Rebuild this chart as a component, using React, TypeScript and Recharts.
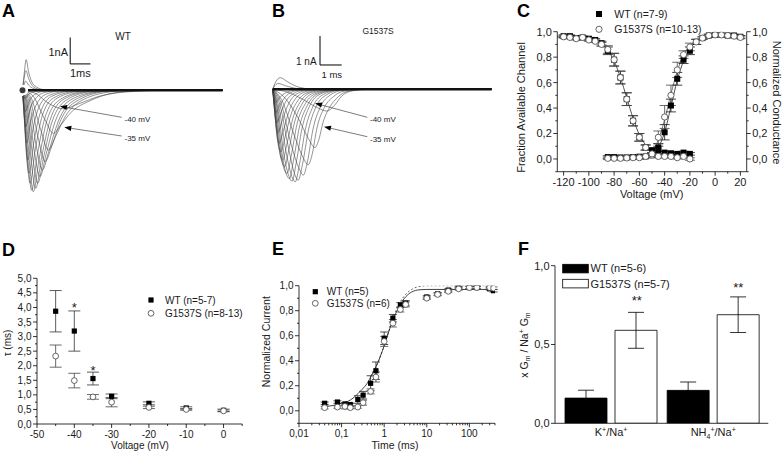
import React from 'react';
import {
  ComposedChart, LineChart, BarChart, Line, Scatter, Bar, XAxis, YAxis, ErrorBar, ReferenceLine,
} from 'recharts';

const FONT = '"Liberation Sans", Arial, Helvetica, sans-serif';
const comma1 = (v: number) => v.toFixed(1).replace('.', ',');
const comma2 = (v: number) => (Math.abs(v - 0.01) < 1e-9 ? '0,01' : Math.abs(v - 0.1) < 1e-9 ? '0,1' : String(v));
const intFmt = (v: number) => String(v);

// ---------------- Panel A (WT current traces) : [time ms, current nA]
const tracesA: number[][][] = [
  [[0,0],[0.6,-0.1],[1.3,-0.5],[2.0,-0.7],[2.8,-0.5],[3.8,-0.22],[5.5,-0.04],[7,0],[9.86,0]],
  [[0,0],[0.5,-0.2],[1.1,-1.1],[1.52,-1.63],[1.9,-1.3],[2.35,-0.87],[3.4,-0.37],[5.0,-0.05],[6.5,0],[9.86,0]],
  [[0,0],[0.4,-0.25],[0.9,-1.5],[1.27,-2.26],[1.6,-1.8],[2.1,-1.0],[3.0,-0.35],[4.6,-0.04],[6,0],[9.86,0]],
  [[0,0],[0.35,-0.3],[0.8,-1.9],[1.11,-2.7],[1.45,-2.1],[1.9,-1.1],[2.8,-0.35],[4.2,-0.04],[5.5,0],[9.86,0]],
  [[0,0],[0.3,-0.35],[0.7,-2.2],[0.98,-3.02],[1.3,-2.3],[1.75,-1.2],[2.6,-0.35],[4.0,-0.04],[5.5,0],[9.86,0]],
  [[0,0],[0.25,-0.4],[0.6,-2.4],[0.86,-3.27],[1.17,-2.4],[1.6,-1.2],[2.4,-0.35],[3.8,-0.04],[5,0],[9.86,0]],
  [[0,0],[0.2,-0.4],[0.5,-2.5],[0.75,-3.52],[1.05,-2.5],[1.45,-1.2],[2.2,-0.35],[3.5,-0.04],[5,0],[9.86,0]],
  [[0,0],[0.18,-0.5],[0.43,-2.7],[0.65,-3.71],[0.95,-2.5],[1.35,-1.15],[2.0,-0.35],[3.3,-0.04],[4.5,0],[9.86,0]],
  [[0,0],[0.15,-0.6],[0.35,-2.8],[0.53,-3.84],[0.82,-2.6],[1.2,-1.15],[1.85,-0.35],[3.1,-0.04],[4.5,0],[9.86,0]],
  [[0,0],[0.12,-0.7],[0.3,-2.9],[0.45,-3.78],[0.72,-2.5],[1.1,-1.05],[1.7,-0.3],[2.9,-0.03],[4,0],[9.86,0]],
  [[0,0],[0.1,-0.8],[0.25,-2.8],[0.37,-3.52],[0.62,-2.3],[0.98,-0.95],[1.55,-0.28],[2.7,-0.03],[4,0],[9.86,0]],
  [[0,0],[0.08,-0.8],[0.2,-2.5],[0.32,-3.14],[0.55,-2.0],[0.9,-0.8],[1.45,-0.22],[2.5,-0.02],[3.5,0],[9.86,0]],
  [[0,0],[0.07,-0.8],[0.17,-2.1],[0.26,-2.64],[0.48,-1.6],[0.82,-0.62],[1.35,-0.18],[2.3,-0.02],[3.5,0],[9.86,0]],
  [[0,0],[0.06,-0.7],[0.14,-1.6],[0.21,-2.0],[0.42,-1.15],[0.75,-0.45],[1.25,-0.12],[2.1,0],[9.86,0]],
  [[0,0],[0.05,-0.6],[0.11,-1.15],[0.16,-1.38],[0.36,-0.75],[0.68,-0.28],[1.15,-0.07],[2.0,0],[9.86,0]],
  [[0,0],[0.05,-0.4],[0.14,-0.8],[0.32,-0.42],[0.62,-0.15],[1.1,-0.03],[2.0,0],[9.86,0]],
  [[0,0],[0.05,-0.15],[0.12,-0.3],[0.3,-0.15],[0.6,-0.05],[1.2,0],[9.86,0]],
  [[0,0],[0.06,0.15],[0.15,0.35],[0.3,0.2],[0.5,0.08],[0.9,0.01],[1.5,0],[9.86,0]],
  [[0,0],[0.07,0.4],[0.17,0.75],[0.3,0.45],[0.48,0.18],[0.8,0.04],[1.3,0],[9.86,0]],
  [[0,0],[0.08,0.6],[0.18,1.16],[0.3,0.7],[0.45,0.33],[0.7,0.12],[1.1,0.02],[1.6,0],[9.86,0]],
];

// ---------------- Panel B (G1537S current traces)
const tracesB: number[][][] = [
  [[0,0],[0.6,-0.08],[1.4,-0.35],[2.1,-0.65],[2.5,-0.75],[2.85,-0.55],[3.2,-0.22],[3.7,-0.05],[4.5,0],[10.1,0]],
  [[0,0],[0.5,-0.25],[1.18,-1.0],[1.64,-1.69],[1.95,-2.01],[2.1,-1.8],[2.33,-1.12],[2.64,-0.6],[2.95,-0.31],[3.33,-0.1],[4.2,0],[10.1,0]],
  [[0,0],[0.4,-0.35],[1.0,-1.6],[1.4,-2.35],[1.64,-2.6],[1.8,-2.3],[2.05,-1.3],[2.4,-0.6],[2.8,-0.25],[3.3,-0.06],[4.2,0],[10.1,0]],
  [[0,0],[0.35,-0.4],[0.85,-1.9],[1.2,-2.7],[1.41,-2.96],[1.6,-2.5],[1.85,-1.4],[2.2,-0.6],[2.65,-0.2],[3.2,-0.04],[4,0],[10.1,0]],
  [[0,0],[0.3,-0.45],[0.75,-2.1],[1.0,-2.9],[1.18,-3.13],[1.37,-2.6],[1.65,-1.4],[2.0,-0.6],[2.5,-0.18],[3.1,-0.03],[4,0],[10.1,0]],
  [[0,0],[0.25,-0.5],[0.65,-2.3],[0.88,-3.0],[1.04,-3.19],[1.23,-2.6],[1.5,-1.4],[1.85,-0.6],[2.35,-0.17],[3.0,-0.03],[4,0],[10.1,0]],
  [[0,0],[0.2,-0.5],[0.55,-2.4],[0.75,-3.0],[0.89,-3.17],[1.08,-2.55],[1.35,-1.35],[1.7,-0.58],[2.2,-0.16],[2.9,-0.03],[4,0],[10.1,0]],
  [[0,0],[0.18,-0.55],[0.47,-2.4],[0.64,-2.95],[0.77,-3.08],[0.96,-2.45],[1.23,-1.3],[1.6,-0.55],[2.1,-0.15],[2.8,-0.03],[4,0],[10.1,0]],
  [[0,0],[0.15,-0.6],[0.4,-2.3],[0.55,-2.8],[0.66,-2.9],[0.85,-2.3],[1.12,-1.2],[1.5,-0.5],[2.0,-0.14],[2.7,-0.02],[3.5,0],[10.1,0]],
  [[0,0],[0.12,-0.6],[0.33,-2.15],[0.46,-2.58],[0.55,-2.67],[0.74,-2.1],[1.02,-1.1],[1.4,-0.45],[1.9,-0.12],[2.6,-0.02],[3.5,0],[10.1,0]],
  [[0,0],[0.1,-0.6],[0.28,-1.95],[0.38,-2.37],[0.46,-2.44],[0.65,-1.9],[0.93,-1.0],[1.3,-0.4],[1.8,-0.1],[2.5,-0.02],[3.5,0],[10.1,0]],
  [[0,0],[0.08,-0.6],[0.22,-1.75],[0.32,-2.1],[0.38,-2.15],[0.57,-1.65],[0.85,-0.85],[1.2,-0.35],[1.7,-0.09],[2.4,0],[10.1,0]],
  [[0,0],[0.07,-0.55],[0.18,-1.5],[0.3,-1.86],[0.5,-1.4],[0.78,-0.7],[1.1,-0.28],[1.6,-0.07],[2.3,0],[10.1,0]],
  [[0,0],[0.06,-0.5],[0.15,-1.2],[0.23,-1.5],[0.43,-1.1],[0.7,-0.55],[1.0,-0.22],[1.5,-0.05],[2.2,0],[10.1,0]],
  [[0,0],[0.05,-0.45],[0.12,-0.95],[0.18,-1.15],[0.38,-0.8],[0.62,-0.4],[0.95,-0.15],[1.4,-0.03],[2,0],[10.1,0]],
  [[0,0],[0.05,-0.35],[0.15,-0.8],[0.33,-0.55],[0.58,-0.26],[0.9,-0.09],[1.3,-0.02],[2,0],[10.1,0]],
  [[0,0],[0.05,-0.22],[0.12,-0.45],[0.3,-0.3],[0.55,-0.14],[0.85,-0.05],[1.3,0],[10.1,0]],
  [[0,0],[0.06,0.08],[0.25,0.2],[0.6,0.12],[1.0,0.04],[1.5,0],[10.1,0]],
  [[0,0],[0.1,0.2],[0.35,0.4],[0.7,0.25],[1.1,0.1],[1.6,0.02],[2.2,0],[10.1,0]],
];

// ---------------- Panel C
const cInactV = [-120,-115,-110,-105,-100,-95,-90,-85,-80,-75,-70,-65,-60,-55,-50,-45,-40,-35,-30,-25,-20];
const cWTInact = [0.965,0.965,0.95,0.955,0.945,0.935,0.91,0.85,0.78,0.64,0.47,0.30,0.17,0.09,0.068,0.09,0.05,0.045,0.04,0.05,0.04];
const cWTInactErr = [0.01,0.01,0.01,0.01,0.01,0.01,0.015,0.03,0.05,0.05,0.05,0.04,0.03,0.02,0.02,0.03,0.01,0.01,0.01,0.01,0.01];
const cGInact = [0.96,0.955,0.945,0.955,0.935,0.925,0.9,0.86,0.78,0.64,0.47,0.30,0.17,0.09,0.03,0.02,0.02,0.02,0.01,0.02,0.0];
const cGInactErr = [0.01,0.01,0.01,0.01,0.01,0.01,0.015,0.03,0.05,0.05,0.05,0.04,0.03,0.02,0.01,0.01,0.01,0.01,0.01,0.01,0.01];
const cActV = [-85,-80,-75,-70,-65,-60,-55,-50,-45,-40,-35,-30,-25,-20,-15,-10,-5,0,5,10,15,20];
const cWTAct = [0.015,0.015,0.012,0.012,0.015,0.018,0.02,0.03,0.07,0.21,0.42,0.63,0.78,0.85,0.92,0.95,0.97,0.975,0.975,0.97,0.97,0.96];
const cWTActErr = [0.01,0.01,0.01,0.01,0.01,0.01,0.01,0.01,0.03,0.06,0.05,0.05,0.03,0.03,0.02,0.01,0.01,0.01,0.01,0.01,0.01,0.01];
const cGAct = [0.005,0.005,0.005,0.008,0.01,0.01,0.02,0.04,0.17,0.33,0.50,0.70,0.82,0.88,0.92,0.95,0.97,0.975,0.975,0.97,0.965,0.955];
const cGActErr = [0.01,0.01,0.01,0.01,0.01,0.01,0.01,0.01,0.05,0.09,0.08,0.06,0.03,0.03,0.02,0.01,0.01,0.01,0.01,0.01,0.01,0.01];
const cFitInactV = [-125,-120,-115,-110,-105,-100,-95,-90,-85,-80,-75,-70,-65,-60,-55,-50];
const cFitInact = [0.96,0.96,0.96,0.955,0.95,0.945,0.93,0.905,0.855,0.77,0.64,0.48,0.32,0.19,0.11,0.06];
const cFitActV = [-60,-55,-50,-45,-40,-35,-30,-25,-20,-15,-10,-5,0,5,10,15,20];
const cFitActWT = [0.01,0.02,0.04,0.09,0.21,0.41,0.62,0.77,0.87,0.92,0.95,0.965,0.97,0.97,0.97,0.97,0.97];
const cFitActG = [0.01,0.02,0.05,0.15,0.31,0.51,0.69,0.82,0.89,0.93,0.955,0.965,0.97,0.97,0.97,0.97,0.97];
const cXTicks = [-120,-110,-100,-90,-80,-70,-60,-50,-40,-30,-20,-10,0,10,20];
const cXMajor = [-120,-100,-80,-60,-40,-20,0,20];
const cYTicks = [-0.1,0,0.1,0.2,0.3,0.4,0.5,0.6,0.7,0.8,0.9,1.0];
const cYMajor = [0,0.2,0.4,0.6,0.8,1.0];

// ---------------- Panel D
const dVolt = [-45,-40,-35,-30,-20,-10,0];
const dWT = [3.87,3.19,1.56,0.95,0.71,0.55,0.47];
const dWTErr = [0.71,0.69,0.22,0.08,0.05,0.04,0.04];
const dG = [2.33,1.49,0.93,0.75,0.57,0.5,0.45];
const dGErr = [0.38,0.25,0.08,0.16,0.04,0.03,0.03];
const dXTicks = [-50,-45,-40,-35,-30,-25,-20,-15,-10,-5,0,5];
const dXMajor = [-50,-40,-30,-20,-10,0];
const dYTicks = [0,0.25,0.5,0.75,1,1.25,1.5,1.75,2,2.25,2.5,2.75,3,3.25,3.5,3.75,4,4.25,4.5,4.75,5];
const dYMajor = [0,0.5,1,1.5,2,2.5,3,3.5,4,4.5,5];

// ---------------- Panel E
const eTime = [0.04,0.08,0.12,0.16,0.24,0.32,0.48,0.64,1,1.6,2.4,3.2,10,18,32,56,100,150,300,370];
const eWT = [0.06,0.07,0.055,0.05,0.09,0.125,0.22,0.32,0.58,0.74,0.845,0.86,0.91,0.935,0.965,0.985,0.985,0.985,0.975,0.96];
const eWTErr = [0.01,0.01,0.01,0.01,0.03,0.03,0.06,0.07,0.05,0.03,0.02,0.02,0.01,0.01,0.01,0.01,0.01,0.01,0.01,0.01];
const eG = [0.025,0.03,0.035,0.025,0.03,0.065,0.155,0.27,0.555,0.70,0.81,0.85,0.90,0.93,0.955,0.975,0.985,0.985,0.985,0.98];
const eGErr = [0.01,0.01,0.02,0.01,0.01,0.02,0.02,0.04,0.04,0.03,0.02,0.02,0.01,0.01,0.01,0.01,0.01,0.01,0.01,0.01];
const eFitWTT = [0.04,0.07,0.1,0.15,0.2,0.3,0.4,0.5,0.7,1,1.5,2,3,4,6,10,30,100,400];
const eFitWT = [0.035,0.045,0.06,0.08,0.11,0.17,0.22,0.28,0.38,0.52,0.70,0.80,0.90,0.94,0.965,0.97,0.97,0.97,0.97];
const eFitGT = [0.5,0.7,1,1.5,2,3,4,6,10,30,100,400];
const eFitG = [0.28,0.38,0.52,0.71,0.82,0.92,0.96,0.99,1.0,1.0,1.0,1.0];
const eXTicks = [0.01,0.02,0.03,0.04,0.05,0.06,0.07,0.08,0.09,0.1,0.2,0.3,0.4,0.5,0.6,0.7,0.8,0.9,1,2,3,4,5,6,7,8,9,10,20,30,40,50,60,70,80,90,100,200,300,400];
const eXMajor = [0.01,0.1,1,10,100];
const eYTicks = [-0.1,0,0.1,0.2,0.3,0.4,0.5,0.6,0.7,0.8,0.9,1.0];
const eYMajor = [0,0.2,0.4,0.6,0.8,1.0];

// ---------------- Panel F
const fCats = ['K', 'NH4'];
const fWT = [0.16, 0.209];
const fWTErr = [0.05, 0.053];
const fG = [0.59, 0.689];
const fGErr = [0.114, 0.113];

// ---------------- helpers
const toXY = (xs: number[], ys: number[], es?: number[]) => xs.map((x, i) => ({ x, y: ys[i], e: es ? es[i] : 0 }));
const toTrace = (tr: number[][]) => tr.map(([t, i]) => ({ t, i }));

type Orient = 'left' | 'right' | 'bottom';
function makeTick(orient: Orient, major: number[], fmt: (v: number) => string, fs: number, majorLen = 4, minorLen = 2) {
  return function TickMark(props: any) {
    const x = Number(props.x);
    const y = Number(props.y);
    const v = Number(props.payload?.value);
    const isMajor = major.some((m) => Math.abs(m - v) <= 1e-9 * Math.max(1, Math.abs(m)));
    const len = isMajor ? majorLen : minorLen;
    const tp = { fontSize: fs, fontFamily: FONT, fill: '#1a1a1a' };
    if (orient === 'left') {
      return (
        <g>
          <line x1={x - len} y1={y} x2={x} y2={y} stroke="#000" strokeWidth={0.8} />
          {isMajor && <text {...tp} x={x - majorLen - 1.5} y={y + fs * 0.36} textAnchor="end">{fmt(v)}</text>}
        </g>
      );
    }
    if (orient === 'right') {
      return (
        <g>
          <line x1={x} y1={y} x2={x + len} y2={y} stroke="#000" strokeWidth={0.8} />
          {isMajor && <text {...tp} x={x + majorLen + 1.5} y={y + fs * 0.36} textAnchor="start">{fmt(v)}</text>}
        </g>
      );
    }
    return (
      <g>
        <line x1={x} y1={y} x2={x} y2={y + len} stroke="#000" strokeWidth={0.8} />
        {isMajor && <text {...tp} x={x} y={y + majorLen + 2 + fs * 0.78} textAnchor="middle">{fmt(v)}</text>}
      </g>
    );
  };
}

const SquareC = (p: any) => <rect x={p.cx - 3} y={p.cy - 3} width={6} height={6} fill="#000" />;
const CircleC = (p: any) => <circle cx={p.cx} cy={p.cy} r={3.1} fill="#fff" stroke="#555" strokeWidth={0.9} />;
const SquareD = (p: any) => <rect x={p.cx - 2.6} y={p.cy - 2.6} width={5.2} height={5.2} fill="#000" />;
const CircleD = (p: any) => <circle cx={p.cx} cy={p.cy} r={2.9} fill="#fff" stroke="#555" strokeWidth={0.9} />;

function Arrow({ x1, y1, x2, y2 }: { x1: number; y1: number; x2: number; y2: number }) {
  const dx = x2 - x1, dy = y2 - y1;
  const L = Math.hypot(dx, dy);
  const ux = dx / L, uy = dy / L;
  const hl = 7, hw = 2.6;
  const bx = x2 - ux * hl, by = y2 - uy * hl;
  return (
    <g>
      <line x1={x1} y1={y1} x2={bx} y2={by} stroke="#444" strokeWidth={0.7} />
      <polygon points={`${x2},${y2} ${bx - uy * hw},${by + ux * hw} ${bx + uy * hw},${by - ux * hw}`} fill="#000" />
    </g>
  );
}

function TracePanel({ left, traces, xDomain, yDomain, tEnd, barX, barY }: any) {
  const data = traces.map(toTrace);
  return (
    <div style={{ position: 'absolute', left, top: 0 }}>
      <LineChart width={260} height={225} margin={{ top: 0, right: 0, bottom: 0, left: 0 }}>
        <XAxis type="number" dataKey="t" domain={xDomain} hide allowDataOverflow />
        <YAxis type="number" dataKey="i" domain={yDomain} hide allowDataOverflow />
        {data.map((d: any, k: number) => (
          <Line key={k} data={d} dataKey="i" type="monotone" stroke="#3a3a3a" strokeWidth={0.55} dot={false} isAnimationActive={false} />
        ))}
        <ReferenceLine segment={[{ x: 0, y: 0 }, { x: tEnd, y: 0 }]} stroke="#111" strokeWidth={2.6} />
        <ReferenceLine segment={[{ x: barX, y: barY }, { x: barX, y: barY + 1 }]} stroke="#000" strokeWidth={1} />
        <ReferenceLine segment={[{ x: barX, y: barY }, { x: barX + 1, y: barY }]} stroke="#000" strokeWidth={1} />
      </LineChart>
    </div>
  );
}

function FCatTick(props: any) {
  const x = Number(props.x), y = Number(props.y);
  const v = props.payload?.value;
  const tp = { fontSize: 11, fontFamily: FONT, fill: '#1a1a1a' };
  if (v === 'K') {
    return (
      <text {...tp} x={x} y={y + 13} textAnchor="middle">
        K<tspan dy={-4} fontSize={7}>+</tspan><tspan dy={4}>/Na</tspan><tspan dy={-4} fontSize={7}>+</tspan>
      </text>
    );
  }
  return (
    <text {...tp} x={x} y={y + 13} textAnchor="middle">
      NH<tspan dy={3} fontSize={7}>4</tspan><tspan dy={-7} fontSize={7}>+</tspan><tspan dy={4}>/Na</tspan><tspan dy={-4} fontSize={7}>+</tspan>
    </text>
  );
}

export default function App() {
  const cWTInactD = toXY(cInactV, cWTInact, cWTInactErr);
  const cGInactD = toXY(cInactV, cGInact, cGInactErr);
  const cWTActD = toXY(cActV, cWTAct, cWTActErr);
  const cGActD = toXY(cActV, cGAct, cGActErr);
  const cFitI = toXY(cFitInactV, cFitInact);
  const cFitAW = toXY(cFitActV, cFitActWT);
  const cFitAG = toXY(cFitActV, cFitActG);
  const dWTD = toXY(dVolt, dWT, dWTErr);
  const dGD = toXY(dVolt, dG, dGErr);
  const eWTD = toXY(eTime, eWT, eWTErr);
  const eGD = toXY(eTime, eG, eGErr);
  const eFW = toXY(eFitWTT, eFitWT);
  const eFG = toXY(eFitGT, eFitG);
  const fData = fCats.map((cat, i) => ({ cat, wt: fWT[i], wtErr: fWTErr[i], g: fG[i], gErr: fGErr[i] }));

  const txt = { fontFamily: FONT, fill: '#1a1a1a' } as any;
  const bold = { fontFamily: FONT, fontWeight: 700, fontSize: 18, fill: '#000' } as any;

  return (
    <div style={{ position: 'absolute', left: 0, top: 0, width: 783, height: 453, background: '#fff', overflow: 'hidden', fontFamily: FONT }}>
      {/* A */}
      <TracePanel left={0} traces={tracesA} xDomain={[-1.108, 11.70]} yDomain={[-5.1, 3.42]} tEnd={9.86} barX={2.35} barY={1} />
      {/* B */}
      <TracePanel left={260} traces={tracesB} xDomain={[-0.585, 11.396]} yDomain={[-4.679, 3.079]} tEnd={10.09} barX={2.18} barY={0.838} />

      {/* C */}
      <div style={{ position: 'absolute', left: 510, top: 0 }}>
        <ComposedChart width={273} height={215} margin={{ top: 31.7, right: 0, bottom: 0, left: 0 }}>
          <XAxis type="number" dataKey="x" domain={[-125, 25]} ticks={cXTicks} interval={0} tickSize={0} tickMargin={0}
            tick={makeTick('bottom', cXMajor, intFmt, 11)} height={43.3} axisLine={{ stroke: '#000', strokeWidth: 0.8 }} allowDataOverflow />
          <YAxis yAxisId="l" type="number" dataKey="y" domain={[-0.1, 1]} ticks={cYTicks} interval={0} tickSize={0} tickMargin={0}
            tick={makeTick('left', cYMajor, comma1, 11)} width={47.3} axisLine={{ stroke: '#000', strokeWidth: 0.8 }} allowDataOverflow />
          <YAxis yAxisId="r" orientation="right" type="number" dataKey="y" domain={[-0.1, 1]} ticks={cYTicks} interval={0} tickSize={0} tickMargin={0}
            tick={makeTick('right', cYMajor, comma1, 11)} width={36.3} axisLine={{ stroke: '#000', strokeWidth: 0.8 }} allowDataOverflow />
          <Line yAxisId="l" data={cFitI} dataKey="y" type="monotone" stroke="#222" strokeWidth={0.8} dot={false} isAnimationActive={false} />
          <Line yAxisId="r" data={cFitAW} dataKey="y" type="monotone" stroke="#222" strokeWidth={0.8} dot={false} isAnimationActive={false} />
          <Line yAxisId="r" data={cFitAG} dataKey="y" type="monotone" stroke="#555" strokeWidth={0.8} dot={false} isAnimationActive={false} />
          <Scatter yAxisId="l" data={cWTInactD} dataKey="y" shape={SquareC} isAnimationActive={false}>
            <ErrorBar dataKey="e" direction="y" width={5} stroke="#111" strokeWidth={0.8} />
          </Scatter>
          <Scatter yAxisId="r" data={cWTActD} dataKey="y" shape={SquareC} isAnimationActive={false}>
            <ErrorBar dataKey="e" direction="y" width={5} stroke="#111" strokeWidth={0.8} />
          </Scatter>
          <Scatter yAxisId="l" data={cGInactD} dataKey="y" shape={CircleC} isAnimationActive={false}>
            <ErrorBar dataKey="e" direction="y" width={5} stroke="#444" strokeWidth={0.8} />
          </Scatter>
          <Scatter yAxisId="r" data={cGActD} dataKey="y" shape={CircleC} isAnimationActive={false}>
            <ErrorBar dataKey="e" direction="y" width={5} stroke="#444" strokeWidth={0.8} />
          </Scatter>
        </ComposedChart>
      </div>

      {/* D */}
      <div style={{ position: 'absolute', left: 0, top: 240 }}>
        <ComposedChart width={260} height={213} margin={{ top: 38.3, right: 17.8, bottom: 0, left: 0 }}>
          <XAxis type="number" dataKey="x" domain={[-50, 5]} ticks={dXTicks} interval={0} tickSize={0} tickMargin={0}
            tick={makeTick('bottom', dXMajor, intFmt, 10)} height={29} axisLine={{ stroke: '#000', strokeWidth: 0.8 }} allowDataOverflow />
          <YAxis type="number" dataKey="y" domain={[0, 5]} ticks={dYTicks} interval={0} tickSize={0} tickMargin={0}
            tick={makeTick('left', dYMajor, comma1, 10)} width={37} axisLine={{ stroke: '#000', strokeWidth: 0.8 }} allowDataOverflow />
          <Scatter data={dWTD} dataKey="y" shape={SquareD} isAnimationActive={false}>
            <ErrorBar dataKey="e" direction="y" width={6} stroke="#333" strokeWidth={0.8} />
          </Scatter>
          <Scatter data={dGD} dataKey="y" shape={CircleD} isAnimationActive={false}>
            <ErrorBar dataKey="e" direction="y" width={6} stroke="#444" strokeWidth={0.8} />
          </Scatter>
        </ComposedChart>
      </div>

      {/* E */}
      <div style={{ position: 'absolute', left: 260, top: 240 }}>
        <ComposedChart width={260} height={213} margin={{ top: 45.7, right: 25, bottom: 0, left: 0 }}>
          <XAxis type="number" scale="log" dataKey="x" domain={[0.01, 400]} ticks={eXTicks} interval={0} tickSize={0} tickMargin={0}
            tick={makeTick('bottom', eXMajor, comma2, 10)} height={29.7} axisLine={{ stroke: '#000', strokeWidth: 0.8 }} allowDataOverflow />
          <YAxis type="number" dataKey="y" domain={[-0.1, 1]} ticks={eYTicks} interval={0} tickSize={0} tickMargin={0}
            tick={makeTick('left', eYMajor, comma1, 10)} width={39} axisLine={{ stroke: '#000', strokeWidth: 0.8 }} allowDataOverflow />
          <Line data={eFG} dataKey="y" type="monotone" stroke="#444" strokeWidth={0.8} strokeDasharray="2 2" dot={false} isAnimationActive={false} />
          <Line data={eFW} dataKey="y" type="monotone" stroke="#111" strokeWidth={0.8} dot={false} isAnimationActive={false} />
          <Scatter data={eWTD} dataKey="y" shape={SquareD} isAnimationActive={false}>
            <ErrorBar dataKey="e" direction="y" width={4} stroke="#222" strokeWidth={0.8} />
          </Scatter>
          <Scatter data={eGD} dataKey="y" shape={CircleD} isAnimationActive={false}>
            <ErrorBar dataKey="e" direction="y" width={4} stroke="#444" strokeWidth={0.8} />
          </Scatter>
        </ComposedChart>
      </div>

      {/* F */}
      <div style={{ position: 'absolute', left: 520, top: 240 }}>
        <BarChart width={263} height={213} data={fData} margin={{ top: 25.7, right: 14.7, bottom: 0, left: 0 }} barSize={42} barGap={8}>
          <XAxis dataKey="cat" tick={FCatTick} tickLine={false} tickSize={0} tickMargin={0} axisLine={{ stroke: '#000', strokeWidth: 0.8 }}
            height={29.7} padding={{ left: 5, right: 4 }} interval={0} />
          <YAxis type="number" domain={[0, 1]} ticks={[0, 0.5, 1]} interval={0} tickSize={0} tickMargin={0}
            tick={makeTick('left', [0, 0.5, 1], comma1, 11)} width={35} axisLine={{ stroke: '#000', strokeWidth: 0.8 }} allowDataOverflow />
          <Bar dataKey="wt" fill="#000" stroke="#000" strokeWidth={0.8} isAnimationActive={false}>
            <ErrorBar dataKey="wtErr" width={8} stroke="#000" strokeWidth={0.8} />
          </Bar>
          <Bar dataKey="g" fill="#fff" stroke="#000" strokeWidth={0.8} isAnimationActive={false}>
            <ErrorBar dataKey="gErr" width={8} stroke="#000" strokeWidth={0.8} />
          </Bar>
        </BarChart>
      </div>

      {/* annotations overlay */}
      <svg width={783} height={453} style={{ position: 'absolute', left: 0, top: 0, pointerEvents: 'none' }}>
        <text {...bold} x={2} y={17}>A</text>
        <text {...bold} x={272} y={17}>B</text>
        <text {...bold} x={517} y={17}>C</text>
        <text {...bold} x={2} y={256}>D</text>
        <text {...bold} x={272} y={254.5}>E</text>
        <text {...bold} x={518} y={254.5}>F</text>

        {/* A annotations */}
        <text {...txt} fontSize={10} x={123} y={39.5} textAnchor="middle">WT</text>
        <text {...txt} fontSize={11} x={48.5} y={55.5}>1nA</text>
        <text {...txt} fontSize={11} x={70} y={76.5}>1ms</text>
        <text {...txt} fontSize={8} x={124.5} y={122}>-40 mV</text>
        <text {...txt} fontSize={8} x={124.5} y={141.3}>-35 mV</text>
        <Arrow x1={121.7} y1={117.3} x2={60} y2={106.3} />
        <Arrow x1={121.7} y1={136} x2={64.3} y2={127.3} />

        {/* B annotations */}
        <text {...txt} fontSize={8.5} x={378} y={33.5} textAnchor="middle">G1537S</text>
        <text {...txt} fontSize={10} x={296} y={65}>1 nA</text>
        <text {...txt} fontSize={9.5} x={321.5} y={77.5}>1 ms</text>
        <text {...txt} fontSize={8} x={370} y={122}>-40 mV</text>
        <text {...txt} fontSize={8} x={370} y={141.5}>-35 mV</text>
        <Arrow x1={367.3} y1={117.3} x2={315} y2={103.3} />
        <Arrow x1={367.3} y1={136.7} x2={324} y2={126.7} />

        {/* C labels & legend */}
        <rect x={596} y={11} width={6} height={6} fill="#000" />
        <text {...txt} fontSize={10.5} x={614.3} y={17.8}>WT (n=7-9)</text>
        <circle cx={599} cy={29.3} r={3.1} fill="#fff" stroke="#555" strokeWidth={0.9} />
        <text {...txt} fontSize={10.5} x={614.3} y={33.1}>G1537S (n=10-13)</text>
        <text {...txt} fontSize={11} transform="translate(524.5,107.5) rotate(-90)" textAnchor="middle">Fraction Available Channel</text>
        <text {...txt} fontSize={11} transform="translate(772.5,102.5) rotate(90)" textAnchor="middle">Normalized Conductance</text>
        <text {...txt} fontSize={11} x={651.7} y={198} textAnchor="middle">Voltage (mV)</text>

        {/* D labels & legend */}
        <rect x={148.4} y={297.4} width={5.2} height={5.2} fill="#000" />
        <text {...txt} fontSize={10} x={165} y={303.5}>WT (n=5-7)</text>
        <circle cx={151} cy={313.3} r={2.9} fill="#fff" stroke="#555" strokeWidth={0.9} />
        <text {...txt} fontSize={10} x={165} y={317}>G1537S (n=8-13)</text>
        <text {...txt} fontSize={13} x={74.3} y={312} textAnchor="middle">*</text>
        <text {...txt} fontSize={13} x={93} y={374.5} textAnchor="middle">*</text>
        <text {...txt} fontSize={10} transform="translate(10.5,343) rotate(-90)" textAnchor="middle">τ (ms)</text>
        <text {...txt} fontSize={10} x={140} y={449} textAnchor="middle">Voltage (mV)</text>

        {/* E labels & legend */}
        <rect x={312.7} y={289.1} width={5.2} height={5.2} fill="#000" />
        <text {...txt} fontSize={10} x={326.7} y={295.2}>WT (n=5)</text>
        <circle cx={315.3} cy={303.3} r={2.9} fill="#fff" stroke="#555" strokeWidth={0.9} />
        <text {...txt} fontSize={10} x={326.7} y={307}>G1537S (n=6)</text>
        <text {...txt} fontSize={10.5} transform="translate(270,341.7) rotate(-90)" textAnchor="middle">Normalized Current</text>
        <text {...txt} fontSize={10.5} x={395} y={449} textAnchor="middle">Time (ms)</text>

        {/* F labels & legend */}
        <rect x={562.7} y={264.3} width={25.6} height={8.6} fill="#000" stroke="#000" strokeWidth={0.8} />
        <text {...txt} fontSize={11} x={590.5} y={272.3}>WT (n=5-6)</text>
        <rect x={562.7} y={279.3} width={25.6} height={8.6} fill="#fff" stroke="#000" strokeWidth={0.8} />
        <text {...txt} fontSize={11} x={590.5} y={287.5}>G1537S (n=5-7)</text>
        <text {...txt} fontSize={13} x={636.7} y={305.3} textAnchor="middle">**</text>
        <text {...txt} fontSize={13} x={738.3} y={292} textAnchor="middle">**</text>
        <text {...txt} fontSize={10.5} transform="translate(527.5,345) rotate(-90)" textAnchor="middle">
          x G<tspan dy={2.5} fontSize={7}>m</tspan><tspan dy={-2.5}> / Na</tspan><tspan dy={-4} fontSize={7}>+</tspan><tspan dy={4}> G</tspan><tspan dy={2.5} fontSize={7}>m</tspan>
        </text>
      </svg>
    </div>
  );
}
